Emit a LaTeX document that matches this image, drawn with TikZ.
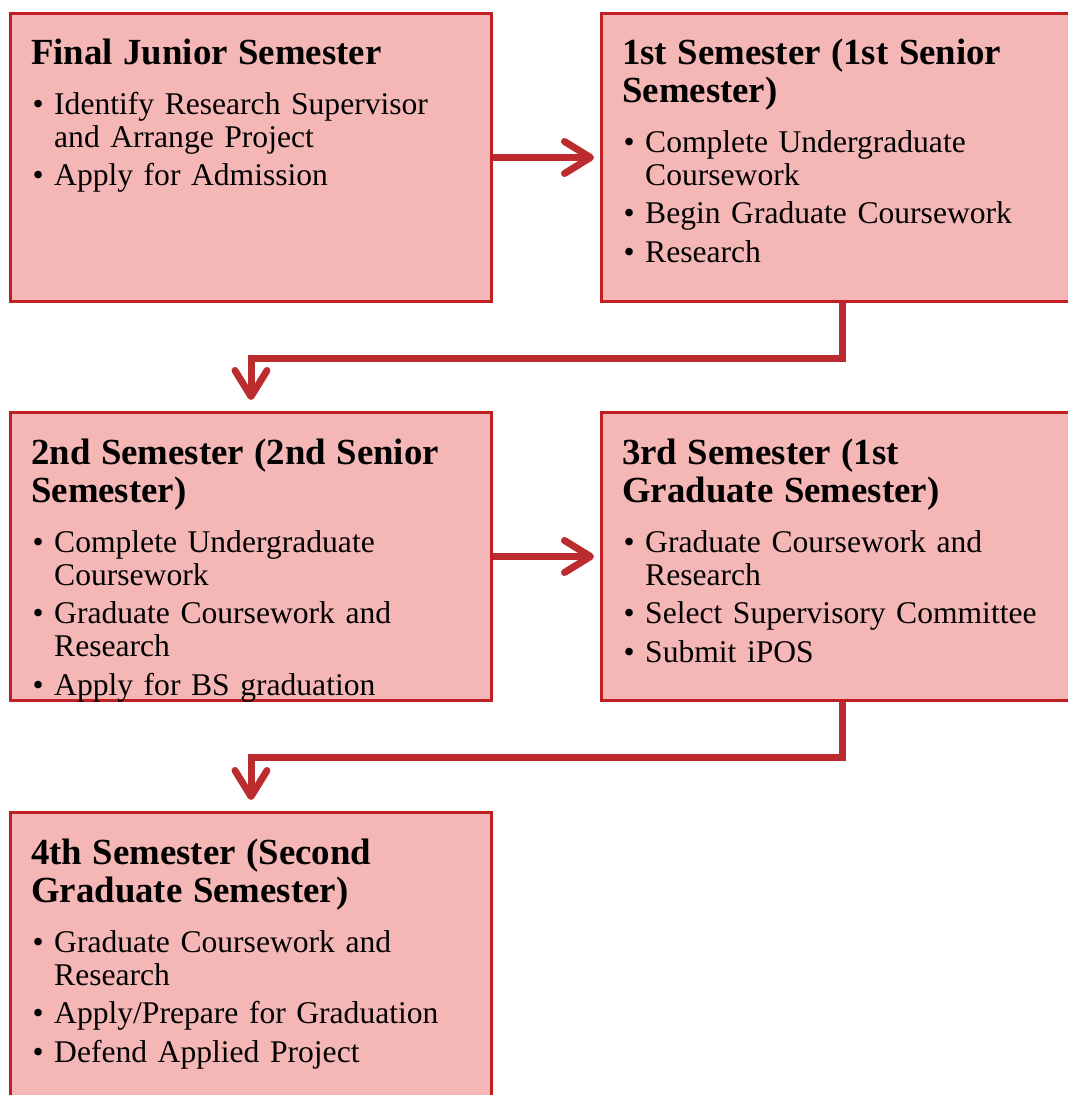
\documentclass[tikz,border=0pt]{standalone}
\usepackage{fontspec}
\setmainfont{Liberation Serif}
\usetikzlibrary{arrows.meta}
\definecolor{boxfill}{HTML}{F5B6B6}
\definecolor{boxline}{HTML}{C01F24}
\definecolor{arrowc}{HTML}{BC2C2F}
\newcommand\boxtitle[1]{{\noindent\fontsize{36.8}{38}\selectfont\bfseries #1\par}\vspace{11.5pt}}
\newcommand\bitem[1]{\hangindent=23pt\hangafter=1\noindent\hspace*{1.5pt}\makebox[21.5pt][l]{\textbullet}#1\par}
\tikzset{
  semester/.style={draw=boxline, line width=3pt, fill=boxfill, anchor=north west,
    minimum width=481pt, minimum height=288pt, inner sep=0pt},
  boxtext/.style={anchor=base west, inner sep=0pt, text width=500pt,
    font=\fontsize{31.6}{33}\selectfont},
  conn/.style={draw=arrowc, line width=7pt,
    -{Straight Barb[length=26pt, width=32pt, round]}}
}
\begin{document}
\begin{tikzpicture}[x=1pt, y=-1pt]
\useasboundingbox (0,0) rectangle (1068,1095);
\clip (0,0) rectangle (1068,1095);

\node[semester] (b1) at (9,12) {};
\node[semester] (b2) at (600,12) {};
\node[semester] (b3) at (9,411) {};
\node[semester] (b4) at (600,411) {};
\node[semester] (b5) at (9,811) {};

\node[boxtext] (t1) at (31,64) {\raggedright\setlength\parskip{5.5pt}%
\boxtitle{Final Junior Semester}%
\bitem{Identify Research Supervisor\newline and Arrange Project}%
\bitem{Apply for Admission}};

\node[boxtext] (t2) at (622,64) {\raggedright\setlength\parskip{5.5pt}%
\boxtitle{1st Semester (1st Senior\newline Semester)}%
\bitem{Complete Undergraduate\newline Coursework}%
\bitem{Begin Graduate Coursework}%
\bitem{Research}};

\node[boxtext] (t3) at (31,464) {\raggedright\setlength\parskip{5.5pt}%
\boxtitle{2nd Semester (2nd Senior\newline Semester)}%
\bitem{Complete Undergraduate\newline Coursework}%
\bitem{Graduate Coursework and\newline Research}%
\bitem{Apply for BS graduation}};

\node[boxtext] (t4) at (622,464) {\raggedright\setlength\parskip{5.5pt}%
\boxtitle{3rd Semester (1st\newline Graduate Semester)}%
\bitem{Graduate Coursework and\newline Research}%
\bitem{Select Supervisory Committee}%
\bitem{Submit iPOS}};

\node[boxtext] (t5) at (31,864) {\raggedright\setlength\parskip{5.5pt}%
\boxtitle{4th Semester (Second\newline Graduate Semester)}%
\bitem{Graduate Coursework and\newline Research}%
\bitem{Apply/Prepare for Graduation}%
\bitem{Defend Applied Project}};

\draw[conn] (b1.east) -- ([xshift=-6pt]b2.west);
\draw[conn] (b2.south) -- ++(0,55) -| ([yshift=11pt]b3.north);
\draw[conn] (b3.east) -- ([xshift=-6pt]b4.west);
\draw[conn] (b4.south) -- ++(0,55) -| ([yshift=11pt]b5.north);
\end{tikzpicture}
\end{document}
